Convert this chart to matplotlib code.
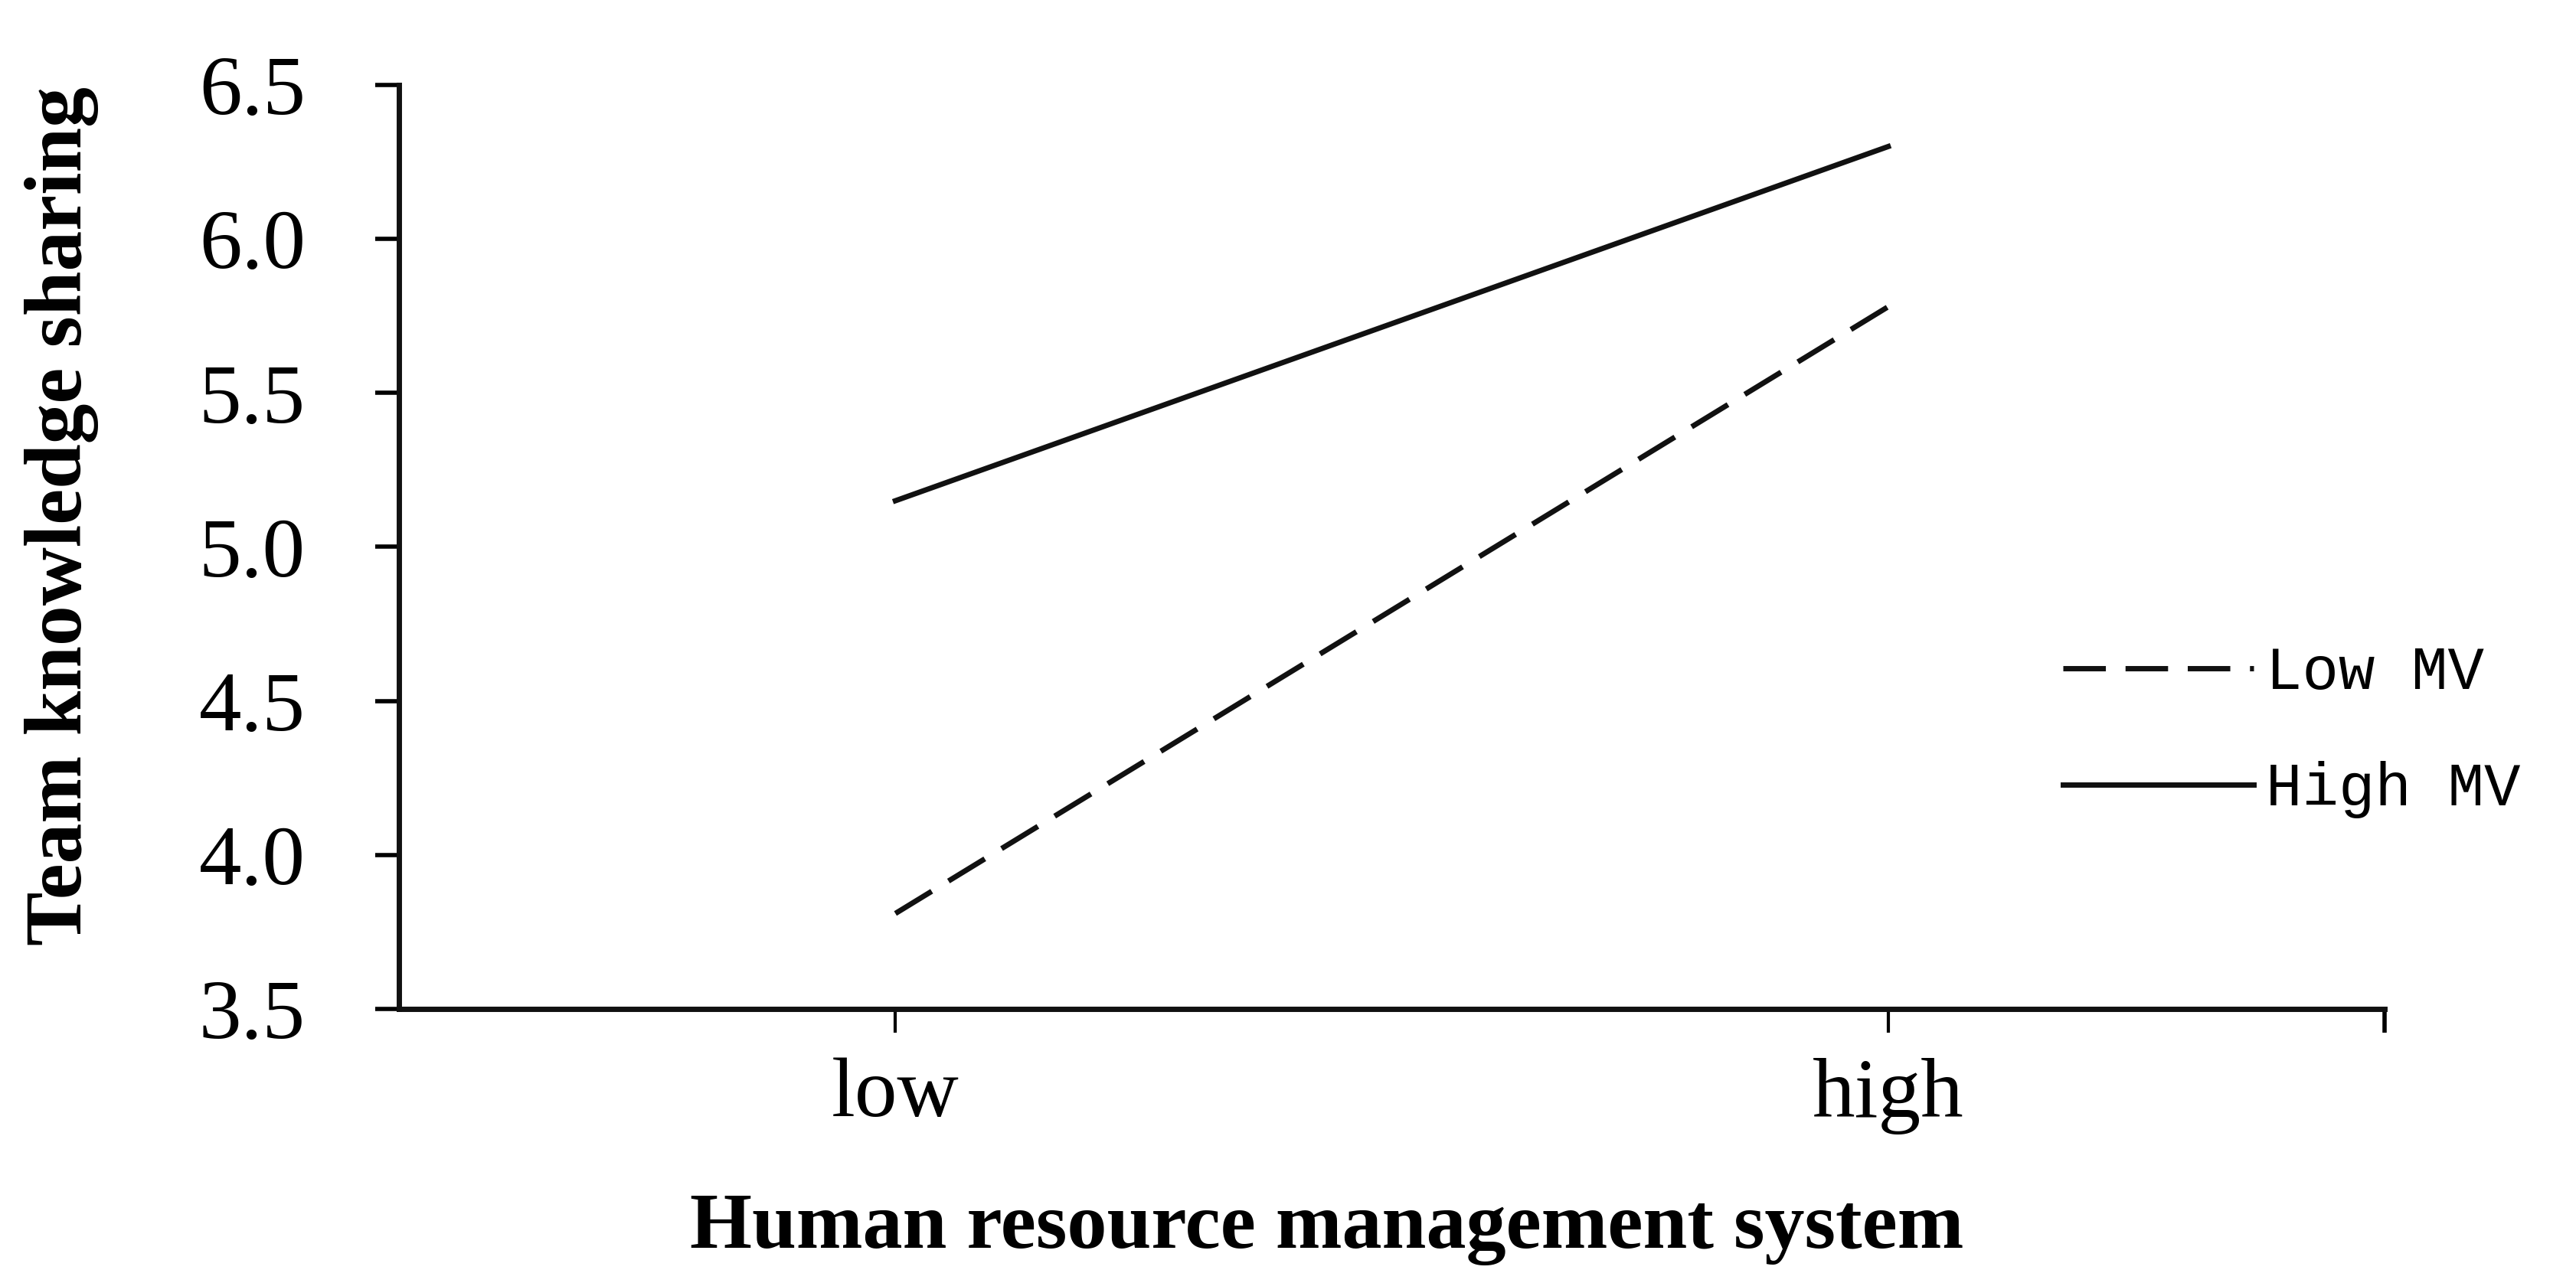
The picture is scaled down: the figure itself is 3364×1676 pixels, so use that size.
import numpy as np
import matplotlib
matplotlib.use("Agg")
import matplotlib.pyplot as plt

# x categories and the two moderator lines
hrm_levels = ["low", "high"]
low_mv = [3.81, 5.78]
high_mv = [5.15, 6.30]
y_ticks = [3.5, 4.0, 4.5, 5.0, 5.5, 6.0, 6.5]

plt.rcParams['font.family'] = ['Liberation Serif', 'DejaVu Serif']

fig = plt.figure(figsize=(33.64, 16.76), dpi=100)
ax = fig.add_axes([0.1549, 0.2136, 0.7708, 0.7202])

x = np.arange(1, len(hrm_levels) + 1)
ax.plot(x, low_mv, color='#111111', lw=5, dashes=(8, 3.7), label="Low MV")
ax.plot(x, high_mv, color='#111111', lw=5, label="High MV")

ax.set_xlim(0.5, 2.5)
ax.set_ylim(3.5, 6.5)
ax.set_xticks(x)
ax.set_xticklabels(hrm_levels)
ax.set_xticks([2.5], minor=True)
ax.set_yticks(y_ticks)
ax.set_yticklabels(["%.1f" % v for v in y_ticks])

for s in ['top', 'right']:
    ax.spines[s].set_visible(False)
for s in ['left', 'bottom']:
    ax.spines[s].set_linewidth(5)
    ax.spines[s].set_color('#111111')

ax.tick_params(axis='y', which='major', length=22, width=4, pad=66, labelsize=80)
ax.tick_params(axis='x', which='major', length=22, width=3, pad=24, labelsize=80)
ax.tick_params(axis='x', which='minor', length=22, width=4)

leg = ax.legend(loc='center left', bbox_to_anchor=(0.8105, 0.30), frameon=False,
                prop={'family': ['Liberation Mono'], 'size': 57},
                handlelength=3.15, handletextpad=0.2, labelspacing=0.97)

fig.text(0.024, 0.598, "Team knowledge sharing", rotation=90, ha='center', va='center',
         fontsize=76, fontweight='bold')
fig.text(0.515, 0.042, "Human resource management system", ha='center', va='center',
         fontsize=75, fontweight='bold')

fig.savefig("out.png", dpi=100)
